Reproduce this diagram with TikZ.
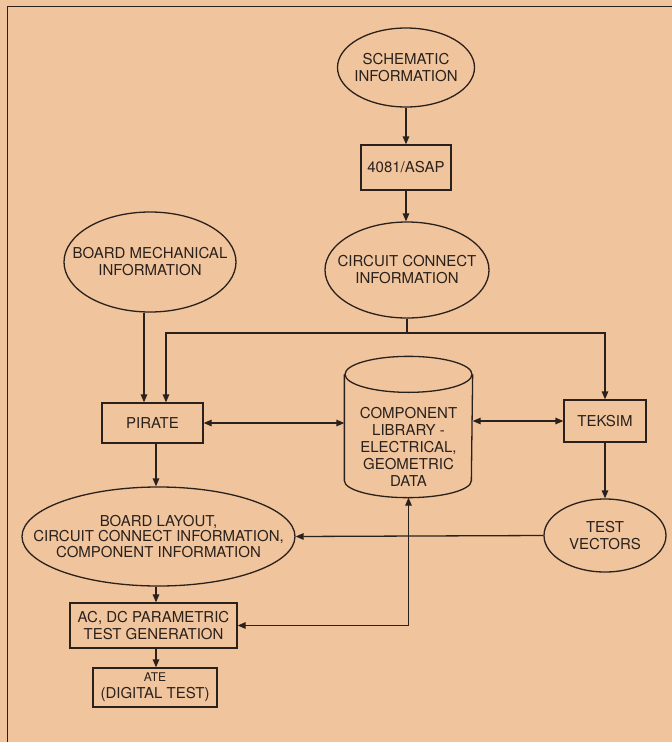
\documentclass[tikz,border=0pt]{standalone}
\usepackage{fontspec}
\setmainfont{TeX Gyre Heros}
\usetikzlibrary{arrows.meta,shapes.geometric}
\definecolor{paper}{HTML}{F0C49C}
\definecolor{ink}{HTML}{2A211C}
\begin{document}
\begin{tikzpicture}[x=1pt,y=-1pt,
  line width=1.3pt, draw=ink, text=ink,
  txt/.style={font=\fontsize{15}{17}\selectfont, align=center, inner sep=0pt, text=ink},
  every node/.style={inner sep=0pt, draw=ink},
  every label/.style={draw=none, txt},
  oval/.style={ellipse},
  box/.style={rectangle, txt},
  arr/.style={-{Triangle[length=8pt,width=6.5pt]}},
  darr/.style={{Triangle[length=8pt,width=6.5pt]}-{Triangle[length=8pt,width=6.5pt]}}]
\fill[paper] (0,0) rectangle (672,742);
\useasboundingbox (0,0) rectangle (672,742);
% frame
\draw[line width=1.2pt] (7.5,745) -- (7.5,6.5) -- (675,6.5);

\node[oval, minimum width=137, minimum height=79, label={center:SCHEMATIC\\INFORMATION}] (sch) at (406,67.5) {};
\node[box, minimum width=90, minimum height=45] (asap) at (406,167.5) {4081/ASAP};
\node[oval, minimum width=164, minimum height=96, label={center:CIRCUIT CONNECT\\INFORMATION}] (cc) at (407,270) {};
\node[oval, minimum width=172, minimum height=100, label={center:BOARD MECHANICAL\\INFORMATION}] (bm) at (150,262) {};
\node[box, minimum width=101, minimum height=40] (pirate) at (152.5,423) {PIRATE};
\node[box, minimum width=82, minimum height=42] (teksim) at (605,421) {TEKSIM};
\node[oval, minimum width=122, minimum height=73, label={center:TEST\\VECTORS}] (tv) at (605,535.5) {};
\node[oval, minimum width=273, minimum height=99, label={[font=\fontsize{15}{15.8}\selectfont]center:BOARD LAYOUT,\\CIRCUIT CONNECT INFORMATION,\\COMPONENT INFORMATION}] (bl) at (158.5,536.5) {};
\node[box, minimum width=167, minimum height=45] (acdc) at (153.5,625.5) {AC, DC PARAMETRIC\\TEST GENERATION};
\node[box, minimum width=124, minimum height=39] (ate) at (155,687.5) {{\fontsize{12}{14.5}\selectfont ATE}\\(DIGITAL TEST)};

% cylinder
\node[draw=none, minimum width=127, minimum height=140] (cyl) at (408.5,427) {};
\draw ([yshift=-18pt]cyl.north west) -- ([yshift=17pt]cyl.south west)
      arc[start angle=180, end angle=360, x radius=63.5pt, y radius=17pt]
      -- ([yshift=-18pt]cyl.north east);
\draw ([yshift=-18pt]cyl.north) ellipse[x radius=63.5pt, y radius=18pt];
\node[draw=none, txt] (cyltext) at (408.5,447) {COMPONENT\\LIBRARY -\\ELECTRICAL,\\GEOMETRIC\\DATA};

% connectors
\draw[arr] (sch.south) -- (asap.north);
\draw[arr] (asap.south) -- (asap.south |- cc.north);
\coordinate (j) at (407,333);
\coordinate (pl) at (166,333);
\coordinate (pm) at (144,0);
\draw (cc.south) -- (j);
\draw[arr] (j) -- (pl) -- (pl |- pirate.north);
\draw[arr] (j) -| (teksim.north);
\draw[arr] (pm |- bm.south) -- (pm |- pirate.north);
\draw[darr] (pirate.east) -- (pirate.east -| cyl.west);
\draw[darr] (cyl.east |- teksim.west) -- (teksim.west);
\draw[arr] (teksim.south) -- (teksim.south |- tv.north);
\draw[arr] (tv.west) -- (bl.east);
\coordinate (x156) at (156,0);
\draw[arr] (x156 |- pirate.south) -- (x156 |- bl.north);
\draw[arr] (x156 |- bl.south) -- (x156 |- acdc.north);
\draw[arr] (x156 |- acdc.south) -- (x156 |- ate.north);
\draw[darr] (cyl.south) |- (acdc.east);
\end{tikzpicture}
\end{document}
